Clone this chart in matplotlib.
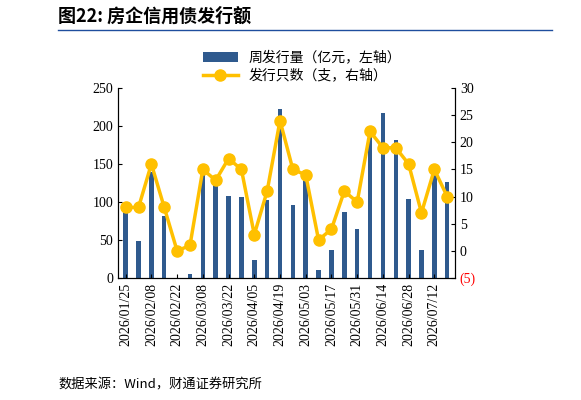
import matplotlib.pyplot as plt
from matplotlib.ticker import FuncFormatter

plt.rcParams['font.family'] = ['Noto Sans CJK SC', 'DejaVu Sans']

dates = ['2026/01/25', '2026/02/01', '2026/02/08', '2026/02/15', '2026/02/22', '2026/03/01',
         '2026/03/08', '2026/03/15', '2026/03/22', '2026/03/29', '2026/04/05', '2026/04/12',
         '2026/04/19', '2026/04/26', '2026/05/03', '2026/05/10', '2026/05/17', '2026/05/24',
         '2026/05/31', '2026/06/07', '2026/06/14', '2026/06/21', '2026/06/28', '2026/07/05',
         '2026/07/12', '2026/07/19']
amount = [90, 49, 139, 81, 0, 5, 138, 127, 108, 107, 24, 102, 223, 96, 130, 11, 37, 87, 65,
          188, 217, 181, 104, 37, 138, 126]
count = [8, 8, 16, 8, 0, 1, 15, 13, 17, 15, 3, 11, 24, 15, 14, 2, 4, 11, 9, 22, 19, 19, 16,
         7, 15, 10]

blue = '#2f5a8e'
gold = '#ffc000'
serif = ['Liberation Serif', 'Noto Sans CJK SC']

fig = plt.figure(figsize=(5.81, 4.0), dpi=100)
ax = fig.add_axes([0.203, 0.305, 0.58, 0.475])
ax2 = ax.twinx()
x = list(range(len(dates)))
b = ax.bar(x, amount, width=0.35, color=blue, label='周发行量（亿元，左轴）')
l, = ax2.plot(x, count, color=gold, lw=2.5, marker='o', ms=8, label='发行只数（支，右轴）')

ax.set_ylim(0, 250)
ax.set_yticks(range(0, 251, 50))
ax2.set_ylim(-5, 30)
ax2.set_yticks(range(-5, 31, 5))
ax2.yaxis.set_major_formatter(FuncFormatter(lambda v, p: f'({-int(v)})' if v < 0 else f'{int(v)}'))
ax.set_xlim(-0.6, len(dates) - 0.4)
ax.set_xticks(x[::2])
ax.set_xticklabels(dates[::2], rotation=90, fontsize=9.5, family=serif)
for a in (ax, ax2):
    a.tick_params(labelsize=10, direction='in', length=3)
    for lab in a.get_yticklabels():
        lab.set_family(serif)
    a.spines['top'].set_visible(False)
fig.canvas.draw()
for t in ax2.get_yticklabels():
    if t.get_text().startswith('('):
        t.set_color('red')

fig.legend(handles=[b, l], loc='upper center', bbox_to_anchor=(0.52, 0.905), frameon=False,
           fontsize=10, handlelength=2.5, labelspacing=0.3)

fig.text(0.1, 0.935, '图22: 房企信用债发行额', fontsize=13, fontweight='bold', va='bottom')
fig.add_artist(plt.Line2D([0.1, 0.95], [0.925, 0.925], color='#1f4e9e', lw=1))
fig.text(0.1, 0.03, '数据来源：Wind，财通证券研究所', fontsize=9.5)

fig.savefig('out.png', dpi=100)
